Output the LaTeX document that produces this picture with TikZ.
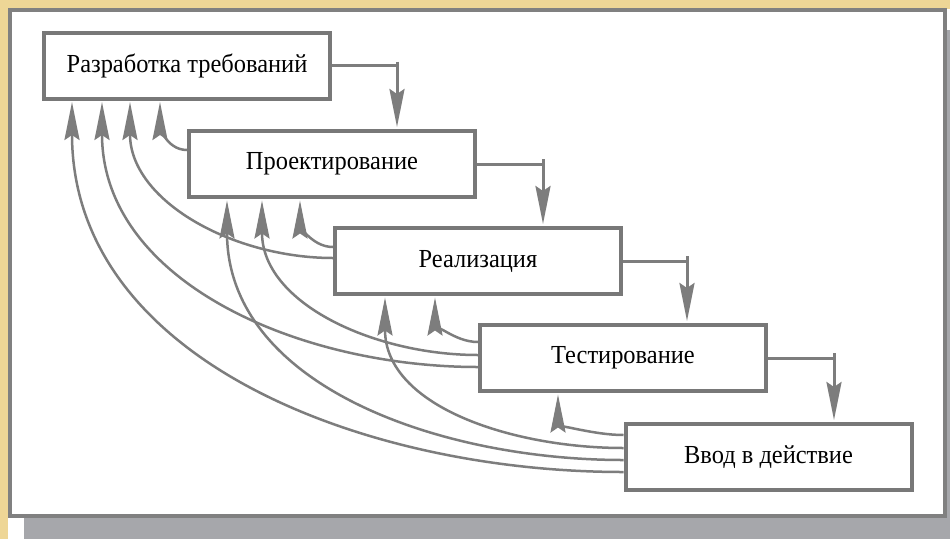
\documentclass[tikz,border=0pt]{standalone}
\usepackage{fontspec}
\setmainfont{Liberation Serif}[FakeStretch=0.94]
\usetikzlibrary{arrows.meta,calc}

\definecolor{panelgray}{RGB}{128,128,128}
\definecolor{boxgray}{RGB}{120,120,120}
\definecolor{linegray}{RGB}{125,125,125}
\definecolor{shadowgray}{RGB}{166,167,171}
\definecolor{goldtone}{RGB}{238,214,150}

\begin{document}
\begin{tikzpicture}[x=1pt, y=-1pt,
   stage_style/.style={draw=boxgray, line width=4pt, fill=white, inner sep=0pt,
                       minimum width=286pt, minimum height=66pt,
                       font=\fontsize{26}{30}\selectfont},
   flow_style/.style={draw=linegray, line width=3pt, shorten >=2pt,
                      -{Stealth[length=38pt,width=15pt,inset=5pt]}},
   back_style/.style={draw=linegray, line width=2.5pt, shorten >=1.5pt,
                      -{Stealth[length=38pt,width=15pt,inset=5pt]}}
   ]
   % Background and panel
   \useasboundingbox (0,0) rectangle (950,539);
   \fill[white] (0,0) rectangle (950,539);
   \fill[goldtone] (0,0) rectangle (950,9);
   \fill[goldtone] (0,0) rectangle (8,539);
   \fill[shadowgray] (24,30) rectangle (950,539);
   \draw[panelgray, line width=3.5pt, fill=white] (10,10) rectangle (945,516);

   % Stages
   \node[stage_style] (req) at (187,65.5) {Разработка требований};
   \node[stage_style] (des) at (332,164) {Проектирование};
   \node[stage_style] (impl) at (478,261) {Реализация};
   \node[stage_style] (test) at (623,358) {Тестирование};
   \node[stage_style] (depl) at (768.5,457) {Ввод в действие};

   % Forward steps
   \coordinate (k1) at (397,61.5);
   \coordinate (k2) at (543,159);
   \coordinate (k3) at (687,256);
   \coordinate (k4) at (834,353);
   \draw[flow_style] (req.east) -- (req.east -| k1) (k1) -- (k1 |- des.north);
   \draw[flow_style] (des.east) -- (des.east -| k2) (k2) -- (k2 |- impl.north);
   \draw[flow_style] (impl.east) -- (impl.east -| k3) (k3) -- (k3 |- test.north);
   \draw[flow_style] (test.east) -- (test.east -| k4) (k4) -- (k4 |- depl.north);

   % Feedback
   \draw[back_style] (des.west |- 0,150) to[out=180,in=-90] (req.south -| 160,0);
   \draw[back_style] (impl.west |- 0,247) to[out=180,in=-90] (des.south -| 300,0);
   \draw[back_style] (impl.west |- 0,258) to[out=180,in=-90] (req.south -| 130,0);
   \draw[back_style] (test.west |- 0,342) to[out=180,in=-90] (impl.south -| 435,0);
   \draw[back_style] (test.west |- 0,355) to[out=180,in=-90] (des.south -| 262,0);
   \draw[back_style] (test.west |- 0,367) to[out=180,in=-90] (req.south -| 102,0);
   \draw[back_style] (depl.west |- 0,435) to[out=180,in=-90] (test.south -| 558,0);
   \draw[back_style] (depl.west |- 0,448) to[out=180,in=-90] (impl.south -| 385,0);
   \draw[back_style] (depl.west |- 0,460) to[out=180,in=-90] (des.south -| 227,0);
   \draw[back_style] (depl.west |- 0,472) to[out=180,in=-90] (req.south -| 72,0);
\end{tikzpicture}
\end{document}
